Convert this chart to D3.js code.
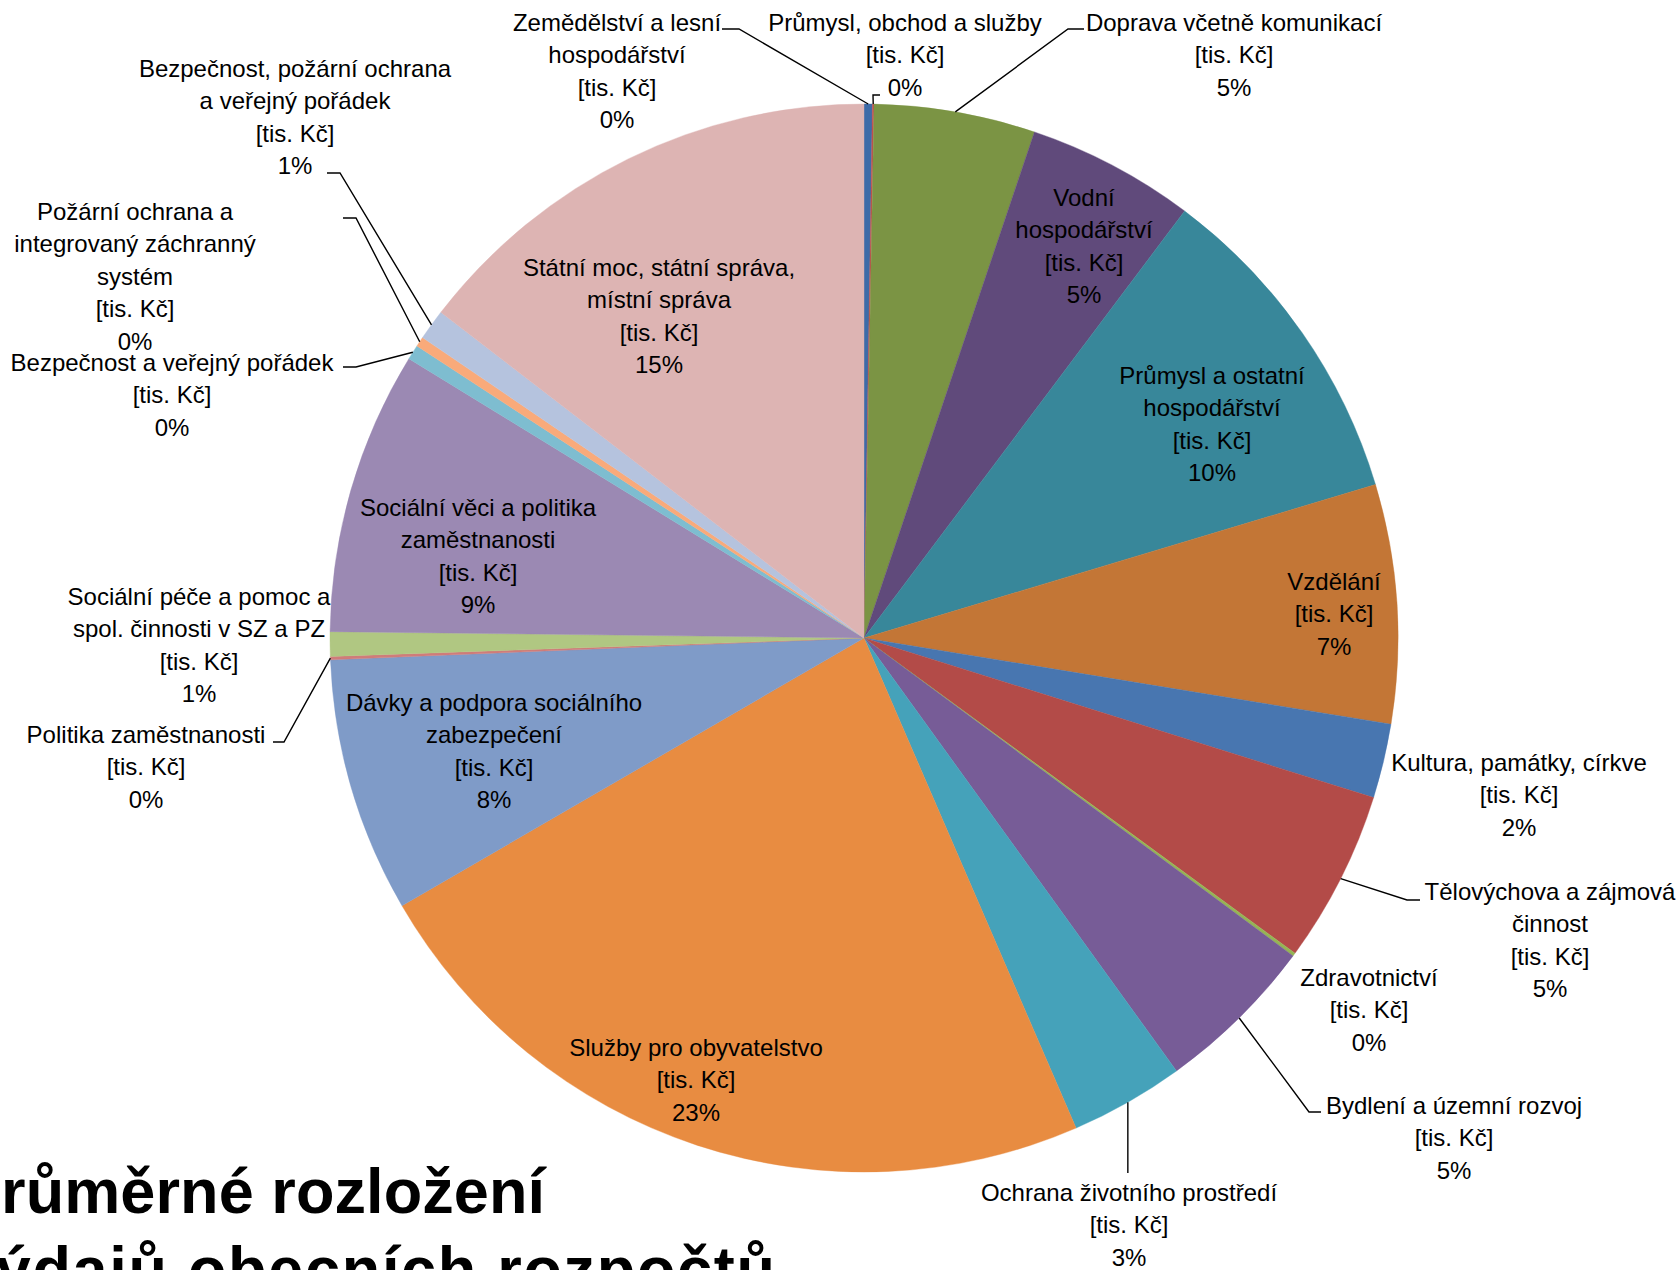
<!DOCTYPE html>
<html>
<head>
<meta charset="utf-8">
<script src="https://cdn.jsdelivr.net/npm/d3@7"></script>
<style>
  html, body { margin: 0; padding: 0; background: #fff; overflow: hidden; }
  svg { display: block; }
  text { font-family: "Liberation Sans", Arial, sans-serif; fill: #000; }
</style>
</head>
<body>
<svg id="chart" width="1680" height="1270"></svg>
<script>
// Expenditure areas, in pie order (clockwise from 12 o'clock)
const categoryLines = [
  ["Zemědělství a lesní", "hospodářství"],
  ["Průmysl, obchod a služby"],
  ["Doprava včetně komunikací"],
  ["Vodní", "hospodářství"],
  ["Průmysl a ostatní", "hospodářství"],
  ["Vzdělání"],
  ["Kultura, památky, církve"],
  ["Tělovýchova a zájmová", "činnost"],
  ["Zdravotnictví"],
  ["Bydlení a územní rozvoj"],
  ["Ochrana životního prostředí"],
  ["Služby pro obyvatelstvo"],
  ["Dávky a podpora sociálního", "zabezpečení"],
  ["Politika zaměstnanosti"],
  ["Sociální péče a pomoc a", "spol. činnosti v SZ a PZ"],
  ["Sociální věci a politika", "zaměstnanosti"],
  ["Bezpečnost a veřejný pořádek"],
  ["Požární ochrana a", "integrovaný záchranný", "systém"],
  ["Bezpečnost, požární ochrana", "a veřejný pořádek"],
  ["Státní moc, státní správa,", "místní správa"]
];
const categories = categoryLines.map(l => l.join(" "));

// Share of average municipal expenditure per area (%)
const values = [0.25, 0.05, 4.87, 5.08, 10.11, 7.22, 2.25, 5.22, 0.10, 4.90,
                3.45, 23.14, 7.71, 0.10, 0.74, 8.57, 0.45, 0.30, 0.93, 14.56];

const unitText = "[tis. Kč]";
const titleLines = ["Průměrné rozložení", "výdajů obecních rozpočtů"];

const colors = ["#3d6ba8", "#c0504d", "#7b9444", "#604a7b", "#38879a",
                "#c37636", "#4876b0", "#b34b48", "#95b454", "#775c97",
                "#45a2ba", "#e88c41", "#7f9bc8", "#d07c7a", "#b0c782",
                "#9b89b3", "#7ebdd0", "#f9aa7a", "#b5c3de", "#ddb4b3"];

// Label placement: first-line centre and optional leader elbow points
const labelLayout = [
  { x: 617,  y: 22,   leader: [[739, 29], [722, 29]] },
  { x: 905,  y: 22,   leader: [[873, 95], [880, 95]] },
  { x: 1234, y: 22,   leader: [[1068, 29], [1084, 29]] },
  { x: 1084, y: 197 },
  { x: 1212, y: 375 },
  { x: 1334, y: 581 },
  { x: 1519, y: 762 },
  { x: 1550, y: 891,  leader: [[1407, 900], [1420, 900]] },
  { x: 1369, y: 977 },
  { x: 1454, y: 1105, leader: [[1309, 1112], [1321, 1112]] },
  { x: 1129, y: 1192, leader: [[1128, 1173]] },
  { x: 696,  y: 1047 },
  { x: 494,  y: 702 },
  { x: 146,  y: 734,  leader: [[284, 742], [273, 742]] },
  { x: 199,  y: 596 },
  { x: 478,  y: 507 },
  { x: 172,  y: 362,  leader: [[356, 367], [343, 367]] },
  { x: 135,  y: 211,  leader: [[356, 218], [343, 218]] },
  { x: 295,  y: 68,   leader: [[340, 173], [327, 173]] },
  { x: 659,  y: 267 }
];

const svg = d3.select("#chart");
const cx = 864, cy = 638, radius = 534;
const lineStep = 32.5, fontSize = 24;

const data = categories.map((c, i) => ({ name: c, lines: categoryLines[i], value: values[i], color: colors[i], layout: labelLayout[i] }));
const total = d3.sum(values);

const pie = d3.pie().sort(null).value(d => d.value).startAngle(0).endAngle(2 * Math.PI);
const arc = d3.arc().innerRadius(0).outerRadius(radius);
const arcs = pie(data);

const g = svg.append("g").attr("transform", `translate(${cx},${cy})`);
g.selectAll("path.slice")
  .data(arcs)
  .join("path")
  .attr("class", "slice")
  .attr("d", arc)
  .attr("fill", d => d.data.color)
  .attr("stroke", d => d.data.color)
  .attr("stroke-width", 0.4);

// Leader lines from slice edge midpoint to label
const line = d3.line();
arcs.forEach(a => {
  const lay = a.data.layout;
  if (!lay.leader) return;
  const mid = (a.startAngle + a.endAngle) / 2;
  const px = cx + radius * Math.sin(mid);
  const py = cy - radius * Math.cos(mid);
  let pts = [[px, py]].concat(lay.leader);
  if (lay.leader.length === 1) pts = [[px, py], [px, lay.leader[0][1]]];
  svg.append("path")
    .attr("d", line(pts))
    .attr("fill", "none")
    .attr("stroke", "#000")
    .attr("stroke-width", 1.4);
});

// Data labels: category, unit, percentage
const fmtPct = v => Math.round(v / total * 100) + "%";
arcs.forEach(a => {
  const lay = a.data.layout;
  const rows = a.data.lines.concat([unitText, fmtPct(a.data.value)]);
  const t = svg.append("text")
    .attr("text-anchor", "middle")
    .style("font-size", fontSize + "px");
  rows.forEach((r, i) => {
    t.append("tspan")
      .attr("x", lay.x)
      .attr("y", lay.y + i * lineStep + 8.5)
      .text(r);
  });
});

// Slide title, running off the lower-left edge
const title = svg.append("g").style("font-weight", "bold").style("font-size", "63px");
const t1 = title.append("text").attr("y", 1213).text(titleLines[0]);
const pW = t1.node().getSubStringLength(0, 1);
const x0 = -pW + 1;
t1.attr("x", x0).attr("textLength", 545 - x0).attr("lengthAdjust", "spacing");
title.append("text").attr("x", x0).attr("y", 1291).text(titleLines[1])
  .attr("textLength", 775 - x0).attr("lengthAdjust", "spacing");
</script>
</body>
</html>
